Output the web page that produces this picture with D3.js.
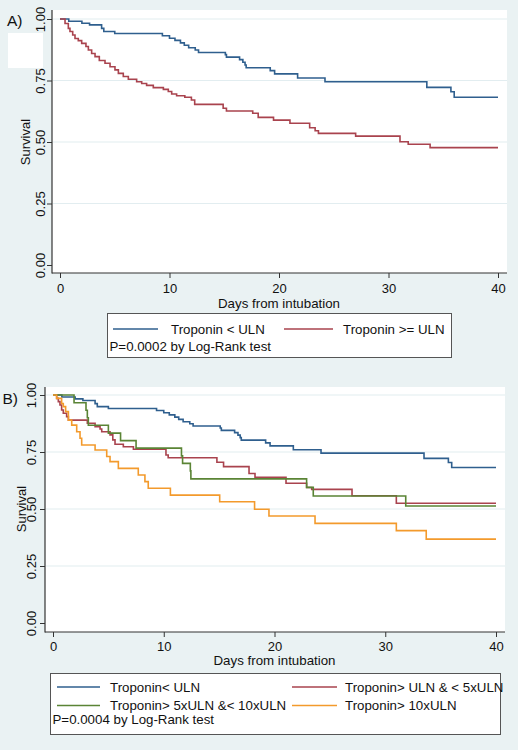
<!DOCTYPE html>
<html>
<head>
<meta charset="utf-8">
<script src="https://cdn.jsdelivr.net/npm/d3@7"></script>
<style>
  html, body { margin: 0; padding: 0; background: #eaf2f3; }
  svg { display: block; }
  text { font-family: "Liberation Sans", Arial, sans-serif; fill: #111; }
</style>
</head>
<body>
<svg id="chart" width="518" height="750"></svg>
<script>
// ---------- DATA ----------
const xTicks = [0, 10, 20, 30, 40];
const yTicks = [0, 0.25, 0.5, 0.75, 1];
const xTitle = "Days from intubation";
const yTitle = "Survival";

// Panel A
const aLowTime = [0, 0.8, 2.0, 2.7, 3.8, 4.0, 5.0, 9.35, 10.0, 10.5, 11.0, 11.35, 11.75, 12.35, 12.65, 15.1, 15.2, 16.4, 16.7, 16.9, 17.0, 19.2, 19.6, 21.7, 24.2, 33.5, 35.7, 36.0, 40];
const aLowSurv = [1, 0.991, 0.983, 0.976, 0.962, 0.949, 0.941, 0.932, 0.922, 0.913, 0.903, 0.893, 0.883, 0.874, 0.864, 0.855, 0.845, 0.835, 0.824, 0.813, 0.802, 0.790, 0.777, 0.760, 0.745, 0.722, 0.704, 0.682, 0.682];
const aHighTime = [0, 0.46, 0.76, 0.91, 1.16, 1.37, 1.67, 1.98, 2.37, 2.59, 2.89, 3.2, 3.59, 4.11, 4.57, 5.02, 5.33, 5.78, 6.24, 7.0, 7.46, 7.91, 8.52, 9.44, 9.89, 10.2, 10.65, 11.4, 12.0, 12.3, 14.9, 15.2, 17.6, 18.1, 19.5, 21.0, 22.8, 23.3, 23.6, 27.0, 31.05, 31.8, 33.8, 40];
const aHighSurv = [1, 0.982, 0.962, 0.949, 0.935, 0.921, 0.912, 0.901, 0.888, 0.874, 0.860, 0.847, 0.831, 0.820, 0.806, 0.793, 0.779, 0.766, 0.755, 0.745, 0.738, 0.730, 0.721, 0.714, 0.705, 0.695, 0.688, 0.682, 0.671, 0.653, 0.637, 0.626, 0.617, 0.600, 0.589, 0.576, 0.558, 0.546, 0.535, 0.524, 0.501, 0.491, 0.477, 0.477];
const aLabels = ["Troponin < ULN", "Troponin >= ULN"];
const aPText = "P=0.0002 by Log-Rank test";

// Panel B
const bLowTime = aLowTime;
const bLowSurv = aLowSurv;
const b1to5Time = [0, 0.33, 0.48, 0.63, 0.78, 0.93, 1.23, 1.39, 3.1, 3.8, 4.25, 4.4, 5.15, 5.4, 5.6, 6.35, 7.26, 10.2, 10.4, 14.8, 15.4, 17.7, 18.24, 21.04, 22.9, 23.36, 27.0, 31.0, 40];
const b1to5Surv = [1, 0.985, 0.971, 0.956, 0.934, 0.920, 0.905, 0.890, 0.876, 0.861, 0.851, 0.839, 0.825, 0.803, 0.784, 0.773, 0.762, 0.737, 0.725, 0.705, 0.686, 0.656, 0.639, 0.613, 0.594, 0.586, 0.558, 0.525, 0.525];
const b5to10Time = [0, 1.9, 2.98, 3.1, 3.19, 5.0, 6.1, 7.5, 11.6, 11.7, 12.4, 12.45, 22.9, 23.5, 31.85, 40];
const b5to10Surv = [1, 0.966, 0.933, 0.900, 0.867, 0.833, 0.800, 0.767, 0.733, 0.700, 0.667, 0.632, 0.595, 0.557, 0.513, 0.513];
const b10Time = [0, 0.33, 0.78, 0.93, 1.14, 1.39, 1.69, 2.14, 2.44, 2.59, 3.8, 4.85, 5.15, 5.9, 7.7, 8.3, 8.6, 10.6, 15.05, 18.2, 19.5, 23.66, 31.0, 33.7, 40];
const b10Surv = [1, 0.985, 0.963, 0.949, 0.927, 0.890, 0.868, 0.839, 0.810, 0.781, 0.759, 0.730, 0.708, 0.678, 0.649, 0.620, 0.591, 0.561, 0.532, 0.499, 0.469, 0.437, 0.405, 0.368, 0.368];
const bLabels = ["Troponin< ULN", "Troponin> ULN & < 5xULN", "Troponin> 5xULN &< 10xULN", "Troponin> 10xULN"];
const bPText = "P=0.0004 by Log-Rank test";

const colors = ["#2f5f8e", "#a9434e", "#5a8435", "#f39a2c"];

// ---------- DRAW ----------
const svg = d3.select("#chart");
svg.append("rect").attr("width", 518).attr("height", 750).attr("fill", "#eaf2f3");

function panel(cfg) {
  const g = svg.append("g");
  const p = cfg.plot;
  g.append("rect").attr("x", p.x0).attr("y", p.y0)
    .attr("width", p.x1 - p.x0).attr("height", p.y1 - p.y0).attr("fill", "#fff");

  const x = d3.scaleLinear().domain([0, 40]).range(cfg.xRange);
  const y = d3.scaleLinear().domain([0, 1]).range(cfg.yRange);

  // gridlines
  g.selectAll("line.grid").data(yTicks.filter(v => v > 0)).join("line")
    .attr("class", "grid")
    .attr("x1", p.x0 + 1).attr("x2", p.x1)
    .attr("y1", d => y(d)).attr("y2", d => y(d))
    .attr("stroke", "#e2edf0").attr("stroke-width", 1.2);

  // series
  const line = d3.line().x(d => x(d[0])).y(d => y(d[1])).curve(d3.curveStepAfter);
  cfg.series.forEach((s, i) => {
    const pts = s.t.map((t, k) => [t, s.s[k]]);
    g.append("path").datum(pts).attr("d", line)
      .attr("fill", "none").attr("stroke", s.color).attr("stroke-width", 1.6);
  });

  // axes
  const ax = g.append("g").attr("transform", `translate(0,${p.y1})`)
    .call(d3.axisBottom(x).tickValues(xTicks).tickSize(5).tickSizeOuter(0).tickPadding(4));
  ax.select(".domain").remove();
  ax.selectAll(".tick line").attr("stroke", "#333");
  ax.selectAll(".tick text").attr("font-size", 13).attr("font-family", "Liberation Sans, Arial, sans-serif")
    .attr("fill", "#111").attr("dy", null).attr("y", cfg.xLabelBase - p.y1);

  const ay = g.append("g").attr("transform", `translate(${p.x0},0)`)
    .call(d3.axisLeft(y).tickValues(yTicks).tickFormat(d3.format(".2f")).tickSize(5).tickSizeOuter(0));
  ay.select(".domain").remove();
  ay.selectAll(".tick line").attr("stroke", "#333");
  ay.selectAll(".tick text").attr("font-size", 13).attr("font-family", "Liberation Sans, Arial, sans-serif")
    .attr("fill", "#111").attr("dy", null).attr("x", 0).attr("y", -cfg.yLabelGap)
    .attr("text-anchor", "middle").attr("transform", "rotate(-90)");

  // axis lines
  g.append("line").attr("x1", p.x0).attr("x2", p.x0).attr("y1", p.y0).attr("y2", p.y1 + 0.5)
    .attr("stroke", "#333").attr("stroke-width", 1.2);
  g.append("line").attr("x1", p.x0).attr("x2", p.x1).attr("y1", p.y1).attr("y2", p.y1)
    .attr("stroke", "#333").attr("stroke-width", 1.2);

  // titles
  g.append("text").attr("x", (cfg.xRange[0] + cfg.xRange[1]) / 2).attr("y", cfg.xTitleBase)
    .attr("text-anchor", "middle").attr("font-size", 13.3).text(xTitle);
  g.append("text").attr("transform", `translate(${cfg.yTitleX},${(cfg.yRange[0] + cfg.yRange[1]) / 2}) rotate(-90)`)
    .attr("text-anchor", "middle").attr("font-size", 13).text(yTitle);
  g.append("text").attr("x", cfg.tag.x).attr("y", cfg.tag.y).attr("font-size", 15.5).text(cfg.tag.text);

  // legend
  const L = cfg.legend;
  g.append("rect").attr("x", L.x0).attr("y", L.y0).attr("width", L.x1 - L.x0).attr("height", L.y1 - L.y0)
    .attr("fill", "#fff").attr("stroke", "#555").attr("stroke-width", 1);
  cfg.series.forEach((s, i) => {
    const col = i % 2, row = Math.floor(i / 2);
    const ly = L.rows[row];
    const lx = L.cols[col];
    g.append("line").attr("x1", lx[0]).attr("x2", lx[1]).attr("y1", ly).attr("y2", ly)
      .attr("stroke", s.color).attr("stroke-width", 1.4);
    g.append("text").attr("x", lx[2]).attr("y", ly + 4.6).attr("font-size", 13.3).text(s.label);
  });
  g.append("text").attr("x", L.pX).attr("y", L.pY).attr("font-size", 13.3).text(L.pText);
}

panel({
  plot: { x0: 52, x1: 507, y0: 10, y1: 273 },
  xRange: [60, 498], yRange: [265, 19],
  xLabelBase: 293, xTitleBase: 307.5, yLabelGap: 7, yTitleX: 29.5,
  tag: { x: 7, y: 26, text: "A)" },
  series: [
    { t: aLowTime, s: aLowSurv, color: colors[0], label: aLabels[0] },
    { t: aHighTime, s: aHighSurv, color: colors[1], label: aLabels[1] }
  ],
  legend: { x0: 107.5, x1: 451.5, y0: 313.5, y1: 357.5, rows: [329], cols: [[113, 158, 171], [284, 333, 343]],
            pX: 109.5, pY: 351, pText: aPText }
});

panel({
  plot: { x0: 45, x1: 505, y0: 387, y1: 632 },
  xRange: [53, 496], yRange: [623, 395],
  xLabelBase: 650.5, xTitleBase: 664.5, yLabelGap: 9.5, yTitleX: 25.5,
  tag: { x: 2.5, y: 404, text: "B)" },
  series: [
    { t: bLowTime, s: bLowSurv, color: colors[0], label: bLabels[0] },
    { t: b1to5Time, s: b1to5Surv, color: colors[1], label: bLabels[1] },
    { t: b5to10Time, s: b5to10Surv, color: colors[2], label: bLabels[2] },
    { t: b10Time, s: b10Surv, color: colors[3], label: bLabels[3] }
  ],
  legend: { x0: 50.5, x1: 500.5, y0: 673.5, y1: 734.5, rows: [687, 705.5], cols: [[57, 100, 110], [292, 337, 345]],
            pX: 52.5, pY: 724, pText: bPText }
});

// white cover box at upper left
svg.append("rect").attr("x", 8).attr("y", 33).attr("width", 35).attr("height", 35).attr("fill", "#fff");
</script>
</body>
</html>
